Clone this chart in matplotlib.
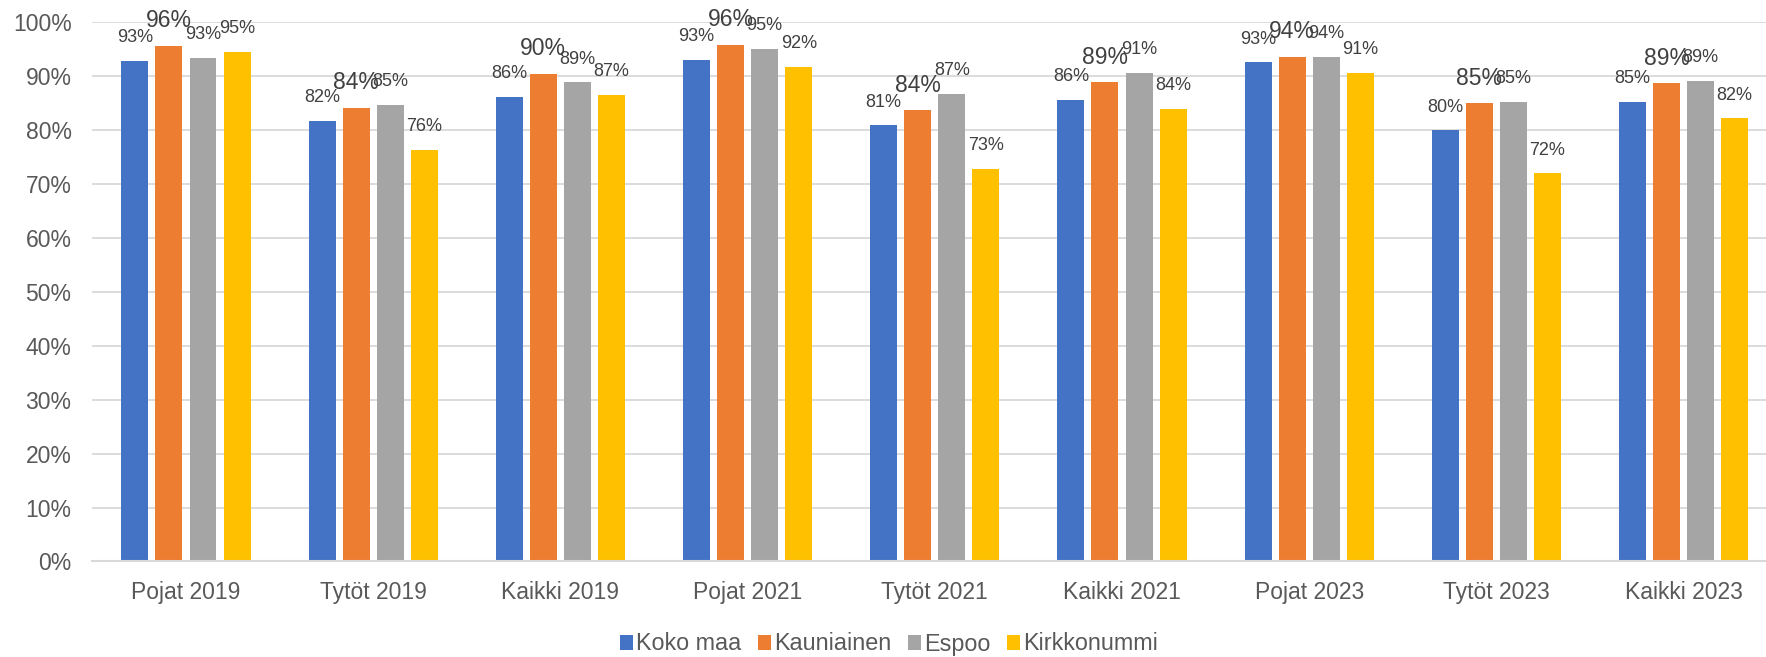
import numpy as np
import matplotlib
matplotlib.use("Agg")
import matplotlib.pyplot as plt
from matplotlib.patches import Patch

plt.rcParams['font.family'] = ['Liberation Sans', 'DejaVu Sans']

categories = ["Pojat 2019", "Tytöt 2019", "Kaikki 2019",
              "Pojat 2021", "Tytöt 2021", "Kaikki 2021",
              "Pojat 2023", "Tytöt 2023", "Kaikki 2023"]
series_names = ["Koko maa", "Kauniainen", "Espoo", "Kirkkonummi"]

koko_maa = [92.9, 81.8, 86.2, 93.1, 80.9, 85.7, 92.6, 80.0, 85.2]
kauniainen = [95.6, 84.1, 90.4, 95.9, 83.7, 88.9, 93.6, 85.0, 88.7]
espoo = [93.4, 84.7, 88.9, 95.1, 86.8, 90.7, 93.6, 85.3, 89.1]
kirkkonummi = [94.6, 76.3, 86.6, 91.8, 72.9, 83.9, 90.6, 72.0, 82.2]

colors = ["#4472C4", "#ED7D31", "#A5A5A5", "#FFC000"]
label_sizes = [13, 16.5, 13, 13]

def main():
    fig = plt.figure(figsize=(17.66, 6.57), dpi=100)
    ax = fig.add_axes([0.0523, 0.1454, 0.9477, 0.8204])

    x = np.arange(len(categories))
    step = 0.182
    width = 0.144
    all_series = [koko_maa, kauniainen, espoo, kirkkonummi]

    for i, vals in enumerate(all_series):
        vals = np.array(vals) / 100.0
        xs = x + (i - 1.5) * step
        ax.bar(xs, vals, width=width, color=colors[i], zorder=3)
        for xi, v in zip(xs, vals):
            # round half up like Excel
            txt = f"{int(v * 100 + 0.5)}%"
            ax.annotate(txt, (xi, v), xytext=(0, 13.5),
                        textcoords="offset points", ha="center", va="baseline",
                        fontsize=label_sizes[i], color="#404040",
                        annotation_clip=False, zorder=4)

    ax.set_xlim(-0.5, 8.44)
    ax.set_ylim(0, 1.0)
    ax.set_yticks(np.arange(0, 1.01, 0.1))
    ax.set_yticklabels([f"{int(round(t * 100))}%" for t in np.arange(0, 1.01, 0.1)])
    ax.set_xticks(x)
    ax.set_xticklabels(categories)
    ax.tick_params(axis="y", length=0, pad=15, labelsize=16.5, labelcolor="#595959")
    ax.tick_params(axis="x", length=0, pad=14, labelsize=16.5, labelcolor="#595959")

    ax.grid(axis="y", color="#D9D9D9", linewidth=1.3, zorder=0)
    ax.set_axisbelow(True)
    for s in ["top", "right", "left"]:
        ax.spines[s].set_visible(False)
    ax.spines["bottom"].set_color("#D9D9D9")
    ax.spines["bottom"].set_linewidth(1.5)
    ax.spines["bottom"].set_zorder(5)

    handles = [Patch(facecolor=c, edgecolor="none") for c in colors]
    fig.legend(handles, series_names, loc="center", bbox_to_anchor=(889 / 1766, 1 - 644 / 657),
               ncol=4, frameon=False, fontsize=16.8, labelcolor="#595959",
               handlelength=0.55, handleheight=0.6, handletextpad=0.15,
               columnspacing=0.7, borderpad=0)

    fig.savefig("out.png", dpi=100)
    plt.close(fig)

if __name__ == "__main__":
    main()
